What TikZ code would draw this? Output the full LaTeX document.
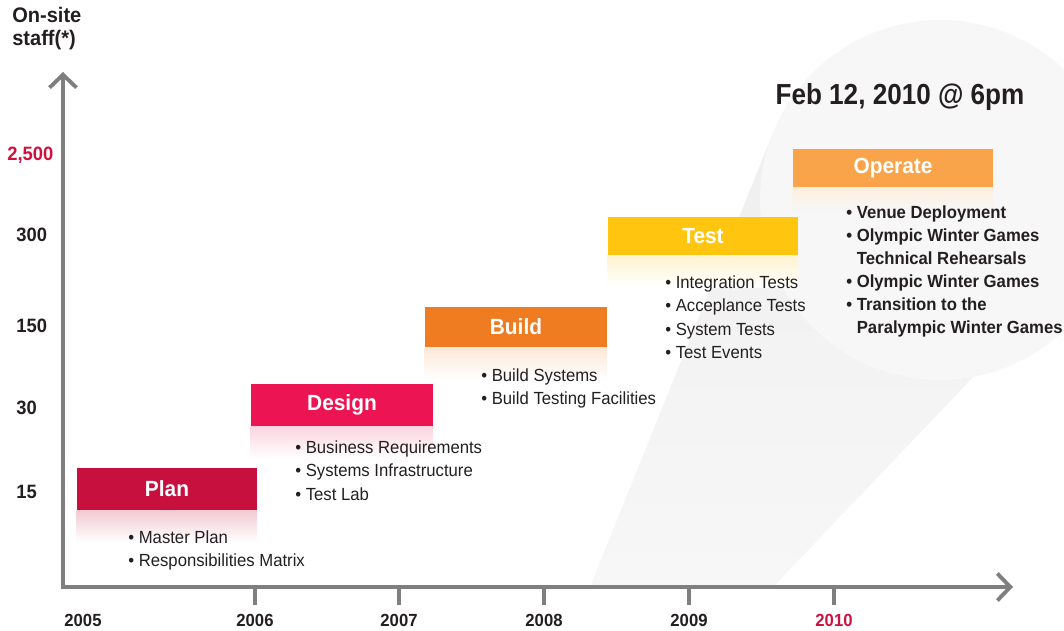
\documentclass[tikz,border=0pt]{standalone}
\usepackage{fontspec}
\setmainfont{Liberation Sans}[FakeStretch=0.95]
\newfontfamily\datefont{Liberation Sans}[FakeStretch=0.9]
\usetikzlibrary{arrows.meta}

\definecolor{inkcol}{HTML}{231F20}
\definecolor{redcol}{HTML}{D0103F}
\definecolor{axiscol}{HTML}{7F7F7F}
\definecolor{beamcol}{HTML}{EFEFEF}
\definecolor{spotcol}{HTML}{F7F7F7}
\definecolor{plancol}{HTML}{C8103E}
\definecolor{designcol}{HTML}{EC1452}
\definecolor{buildcol}{HTML}{F07C22}
\definecolor{testcol}{HTML}{FFC50F}
\definecolor{operatecol}{HTML}{F9A44B}

\tikzset{
  phase/.style={fill=#1, text=white, inner sep=0pt,
    font=\fontsize{12.5}{14}\selectfont\bfseries},
  items/.style={anchor=north west, align=left, inner sep=0pt, text=inkcol,
    font=\fontsize{10}{13.4}\selectfont},
  axislabel/.style={text=inkcol, inner sep=0pt,
    font=\fontsize{10}{12}\selectfont\bfseries},
  stafflabel/.style={anchor=west, text=inkcol, inner sep=0pt,
    font=\fontsize{11}{13}\selectfont\bfseries},
}

\begin{document}
\begin{tikzpicture}[x=0.02cm, y=-0.02cm]
  \useasboundingbox (0,0) rectangle (1064,630);

  % light beam towards the opening day
  \shade[top color=beamcol, bottom color=spotcol] (590,587) -- (773,133) -- (977,373) -- (773,587) -- cycle;
  \fill[spotcol] (940,200) circle (180);

  % axes
  \coordinate (o) at (63,587);
  \coordinate (ytip) at (63,72);
  \coordinate (xtip) at (1013,587);
  \draw[axiscol, line width=2.2pt, line join=miter,
    {Straight Barb[length=2.6mm, width=5.4mm]}-{Straight Barb[length=2.6mm, width=5.4mm]}]
    (ytip) -- (o) -- (xtip);

  \node[anchor=north west, align=left, text=inkcol, inner sep=0pt,
    font=\fontsize{12}{13.2}\selectfont\bfseries] (staff) at (12,7) {On-site\\staff(*)};
  \draw
    (7,155) node[stafflabel, text=redcol] (s2500){2,500}
    (16,235) node[stafflabel] (s300){300}
    (16,326) node[stafflabel] (s150){150}
    (16,408) node[stafflabel] (s30){30}
    (16,492) node[stafflabel] (s15){15};

  \draw
    (83,620) node[axislabel] (y2005){2005}
    (255,620) node[axislabel] (y2006){2006}
    (399,620) node[axislabel] (y2007){2007}
    (544,620) node[axislabel] (y2008){2008}
    (689,620) node[axislabel] (y2009){2009}
    (834,620) node[axislabel, text=redcol] (y2010){2010};
  \begin{scope}[axiscol, line width=2pt]
    \draw (y2006 |- o) -- ++(0,18);
    \draw (y2007 |- o) -- ++(0,18);
    \draw (y2008 |- o) -- ++(0,18);
    \draw (y2009 |- o) -- ++(0,18);
    \draw (y2010 |- o) -- ++(0,18);
  \end{scope}

  % phases
  \node[phase=plancol, minimum width=3.62cm, minimum height=0.84cm] (plan) at (167,489) {Plan};
  \node[phase=designcol, minimum width=3.66cm, minimum height=0.84cm] (design) at (342,405) {Design};
  \node[phase=buildcol, minimum width=3.64cm, minimum height=0.82cm] (build) at (516,327) {Build};
  \node[phase=testcol, minimum width=3.82cm, minimum height=0.76cm] (test) at (703,236) {Test};
  \node[phase=operatecol, minimum width=4.0cm, minimum height=0.76cm] (operate) at (893,168) {Operate};

  \shade[top color=plancol!22, bottom color=white] (plan.south west) rectangle ++(181,32);
  \shade[top color=designcol!18, bottom color=white] (design.south west) rectangle ++(183,32);
  \shade[top color=buildcol!18, bottom color=white] (build.south west) rectangle ++(182,32);
  \shade[top color=testcol!20, bottom color=white] (test.south west) rectangle ++(191,32);
  \shade[top color=operatecol!18, bottom color=spotcol] (operate.south west) rectangle ++(200,24);

  % activities
  \node[items] (planitems) at (128,530) {• Master Plan\\• Responsibilities Matrix};
  \node[items] (designitems) at (295,440) {• Business Requirements\\• Systems Infrastructure\\• Test Lab};
  \node[items] (builditems) at (481,368) {• Build Systems\\• Build Testing Facilities};
  \node[items] (testitems) at (665,275) {• Integration Tests\\• Acceplance Tests\\• System Tests\\• Test Events};
  \node[items, font=\fontsize{10}{13.1}\selectfont\bfseries] (operateitems) at (846,205)
    {• Venue Deployment\\• Olympic Winter Games\\\phantom{• }Technical Rehearsals\\• Olympic Winter Games\\• Transition to the\\\phantom{• }Paralympic Winter Games};

  \node[text=inkcol, inner sep=0pt, font=\fontsize{16.5}{18}\selectfont\datefont\bfseries] (opening) at (900,97) {Feb 12, 2010 @ 6pm};
\end{tikzpicture}
\end{document}
